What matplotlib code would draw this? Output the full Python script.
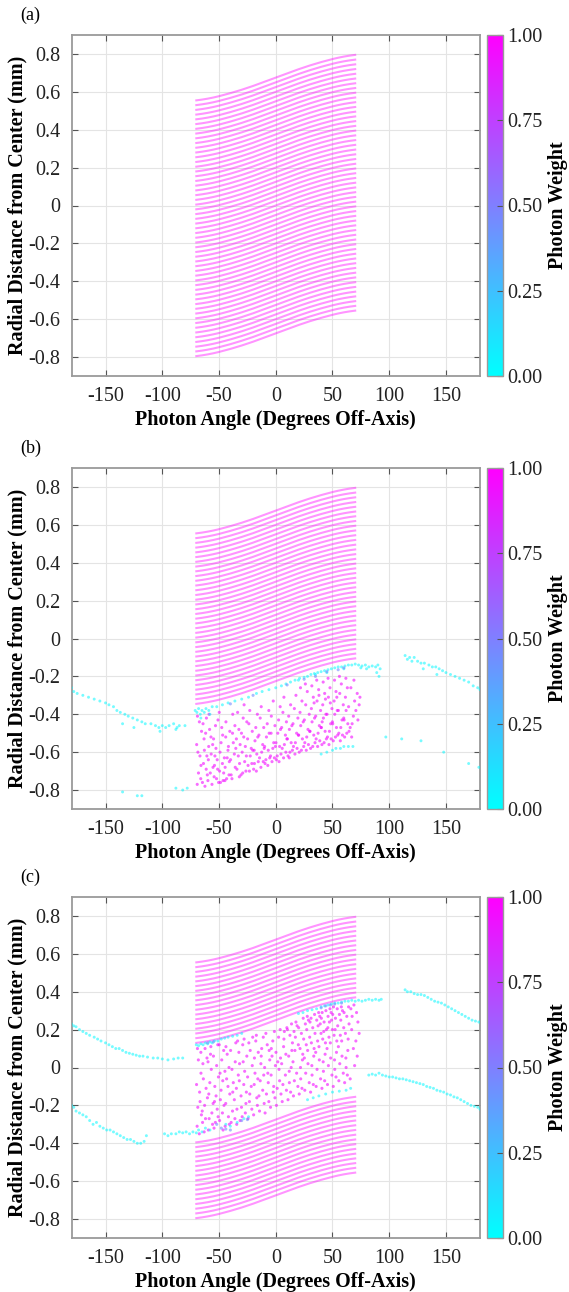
import numpy as np
import matplotlib
matplotlib.use('Agg')
import matplotlib.pyplot as plt
from matplotlib import cm, colors

plt.rcParams['font.family'] = ['Liberation Serif', 'DejaVu Serif']
plt.rcParams['axes.unicode_minus'] = False

# shape of the launch lines: shift (mm) vs angle (deg)
line_angles = [-70, -65, -60, -55, -50, -45, -40, -35, -30, -25, -20, -15, -10, -5, 0,
               5, 10, 15, 20, 25, 30, 35, 40, 45, 50, 55, 60, 65, 70]
line_shift = [-0.120, -0.116, -0.111, -0.105, -0.098, -0.090, -0.082, -0.073, -0.064, -0.054,
              -0.044, -0.033, -0.022, -0.011, 0.0, 0.011, 0.022, 0.033, 0.044, 0.054,
              0.064, 0.073, 0.082, 0.090, 0.098, 0.105, 0.111, 0.116, 0.120]
line_offsets = [-0.675, -0.65, -0.625, -0.6, -0.575, -0.55, -0.525, -0.5, -0.475, -0.45, -0.425,
                -0.4, -0.375, -0.35, -0.325, -0.3, -0.275, -0.25, -0.225, -0.2, -0.175, -0.15,
                -0.125, -0.1, -0.075, -0.05, -0.025, 0.0, 0.025, 0.05, 0.075, 0.1, 0.125, 0.15,
                0.175, 0.2, 0.225, 0.25, 0.275, 0.3, 0.325, 0.35, 0.375, 0.4, 0.425, 0.45, 0.475,
                0.5, 0.525, 0.55, 0.575, 0.6, 0.625, 0.65, 0.675]
lines_b_min = -0.225
lines_c_gap = (-0.275, 0.25)

weight_cloud = 0.95
weight_edge = 0.03
weight_mid = 0.45

# panel (b) photons
cloud_b = [
    (-69.2,-0.77),(-66.8,-0.62),(-68.1,-0.71),(-65.4,-0.49),(-69.7,-0.56),(-67.3,-0.44),(-66.1,-0.74),(-68.6,-0.6),(-65.9,-0.67),(-69.0,-0.41),
    (-64.6,-0.76),(-61.3,-0.69),(-63.2,-0.53),(-60.7,-0.62),(-62.4,-0.78),(-64.1,-0.45),(-61.8,-0.5),(-63.7,-0.66),(-60.3,-0.72),(-62.9,-0.59),(-61.1,-0.42),
    (-59.4,-0.64),(-56.2,-0.77),(-58.3,-0.48),(-55.6,-0.56),(-57.7,-0.71),(-59.8,-0.75),(-56.9,-0.61),(-58.8,-0.4),(-55.3,-0.68),(-57.1,-0.52),(-59.1,-0.57),
    (-54.3,-0.73),(-51.6,-0.64),(-53.1,-0.46),(-50.4,-0.76),(-52.7,-0.58),(-54.8,-0.53),(-51.2,-0.69),(-53.6,-0.62),(-50.9,-0.43),(-52.2,-0.74),(-54.0,-0.67),
    (-49.5,-0.7),(-46.4,-0.75),(-48.2,-0.55),(-45.3,-0.63),(-47.6,-0.47),(-49.1,-0.6),(-45.9,-0.71),(-47.0,-0.66),(-48.7,-0.76),(-46.8,-0.51),(-49.8,-0.39),
    (-44.6,-0.68),(-41.7,-0.57),(-43.3,-0.74),(-40.5,-0.49),(-42.8,-0.63),(-44.1,-0.52),(-41.2,-0.72),(-43.9,-0.44),(-40.9,-0.65),(-42.1,-0.59),(-44.8,-0.75),
    (-39.3,-0.72),(-36.5,-0.61),(-38.1,-0.5),(-35.7,-0.68),(-37.4,-0.55),(-39.8,-0.64),(-36.0,-0.46),(-38.6,-0.74),(-35.2,-0.58),(-37.9,-0.4),
    (-34.2,-0.69),(-31.4,-0.56),(-33.0,-0.62),(-30.6,-0.72),(-32.5,-0.48),(-34.7,-0.53),(-31.9,-0.66),(-33.6,-0.39),(-30.2,-0.5),(-32.1,-0.73),
    (-29.6,-0.6),(-26.3,-0.7),(-28.2,-0.52),(-25.5,-0.44),(-27.4,-0.65),(-29.1,-0.71),(-26.8,-0.57),(-28.7,-0.42),(-25.9,-0.62),(-27.9,-0.35),
    (-24.4,-0.67),(-21.6,-0.58),(-23.2,-0.7),(-20.7,-0.49),(-22.5,-0.62),(-24.8,-0.53),(-21.1,-0.66),(-23.7,-0.45),(-20.3,-0.59),(-22.9,-0.38),
    (-19.5,-0.69),(-16.7,-0.61),(-18.3,-0.54),(-15.4,-0.65),(-17.6,-0.47),(-19.0,-0.59),(-16.2,-0.4),(-18.8,-0.66),(-15.8,-0.52),(-17.1,-0.7),
    (-14.3,-0.63),(-11.5,-0.56),(-13.1,-0.68),(-10.6,-0.47),(-12.4,-0.6),(-14.8,-0.51),(-11.0,-0.65),(-13.7,-0.42),(-10.2,-0.58),(-12.8,-0.36),
    (-9.4,-0.66),(-6.6,-0.59),(-8.2,-0.52),(-5.3,-0.63),(-7.5,-0.45),(-9.8,-0.57),(-6.1,-0.38),(-8.7,-0.64),(-5.8,-0.5),(-7.0,-0.67),
    (-4.6,-0.62),(-1.8,-0.55),(-3.3,-0.65),(-0.7,-0.46),(-2.6,-0.58),(-4.1,-0.5),(-1.2,-0.63),(-3.9,-0.41),(-0.3,-0.57),(-2.2,-0.33),
    (0.6,-0.64),(3.4,-0.57),(1.8,-0.5),(4.6,-0.61),(2.5,-0.43),(0.2,-0.55),(3.9,-0.36),(1.3,-0.62),(4.2,-0.48),(2.9,-0.65),
    (5.7,-0.58),(8.5,-0.51),(6.9,-0.63),(9.4,-0.44),(7.6,-0.56),(5.2,-0.47),(8.9,-0.6),(6.3,-0.39),(9.8,-0.53),(7.2,-0.31),
    (10.8,-0.62),(13.6,-0.55),(12.0,-0.48),(14.7,-0.59),(11.4,-0.41),(10.3,-0.53),(13.1,-0.35),(12.5,-0.6),(14.2,-0.46),(11.9,-0.63),
    (15.6,-0.57),(18.4,-0.5),(16.9,-0.61),(19.5,-0.42),(17.3,-0.55),(15.2,-0.45),(18.8,-0.58),(16.4,-0.37),(19.9,-0.51),(17.8,-0.3),
    (20.7,-0.6),(23.5,-0.53),(22.0,-0.46),(24.6,-0.57),(21.4,-0.39),(20.2,-0.51),(23.1,-0.33),(22.6,-0.59),(24.2,-0.44),(21.8,-0.26),
    (25.6,-0.55),(28.4,-0.48),(26.9,-0.59),(29.5,-0.4),(27.3,-0.52),(25.2,-0.43),(28.8,-0.56),(26.4,-0.35),(29.9,-0.49),(27.8,-0.28),(26.1,-0.24),
    (30.7,-0.58),(33.5,-0.51),(32.0,-0.44),(34.6,-0.55),(31.4,-0.37),(30.2,-0.49),(33.1,-0.31),(32.6,-0.57),(34.2,-0.42),(31.8,-0.25),(33.8,-0.34),
    (35.6,-0.53),(38.4,-0.46),(36.9,-0.57),(39.5,-0.38),(37.3,-0.5),(35.2,-0.41),(38.8,-0.54),(36.4,-0.33),(39.9,-0.47),(37.8,-0.27),(36.1,-0.22),(38.1,-0.3),
    (40.7,-0.56),(43.5,-0.49),(42.0,-0.42),(44.6,-0.53),(41.4,-0.35),(40.2,-0.47),(43.1,-0.29),(42.6,-0.55),(44.2,-0.4),(41.8,-0.23),(43.8,-0.32),(40.9,-0.44),
    (45.6,-0.52),(48.4,-0.45),(46.9,-0.56),(49.5,-0.37),(47.3,-0.49),(45.2,-0.4),(48.8,-0.53),(46.4,-0.31),(49.9,-0.44),(47.8,-0.26),(46.1,-0.21),(48.1,-0.34),
    (50.7,-0.54),(53.5,-0.47),(52.0,-0.4),(54.6,-0.51),(51.4,-0.33),(50.2,-0.45),(53.1,-0.28),(52.6,-0.52),(54.2,-0.38),(51.8,-0.22),(53.8,-0.31),
    (55.6,-0.5),(58.4,-0.43),(56.9,-0.54),(59.5,-0.35),(57.3,-0.47),(55.2,-0.38),(58.8,-0.51),(56.4,-0.29),(59.9,-0.42),(57.8,-0.24),(56.1,-0.2),
    (60.7,-0.52),(63.5,-0.45),(62.0,-0.38),(64.6,-0.49),(61.4,-0.31),(60.2,-0.43),(63.1,-0.26),(62.6,-0.5),(64.2,-0.36),(61.8,-0.21),
    (65.6,-0.47),(68.4,-0.41),(66.9,-0.52),(69.5,-0.33),(67.3,-0.45),(70.6,-0.38),(71.8,-0.29),(72.4,-0.43),(73.5,-0.35),(74.2,-0.31),(66.2,-0.26),(68.9,-0.22),
]
edge_b = [
    (-71,-0.38),(-69.5,-0.39),(-68,-0.37),(-66.5,-0.4),(-65,-0.38),(-63,-0.39),(-61.5,-0.37),(-59,-0.38),(-56,-0.36),(-52,-0.36),
    (-47,-0.35),(-42,-0.34),(-36,-0.33),(-30,-0.32),(-24,-0.31),(-17,-0.29),(-12,-0.28),(-6,-0.27),(0,-0.26),(5,-0.25),
    (9,-0.24),(13,-0.23),(17,-0.22),(21,-0.21),(25,-0.205),(28,-0.2),(31,-0.19),(34,-0.185),(37,-0.18),(40,-0.175),
    (43,-0.17),(46,-0.165),(49,-0.16),(52,-0.155),(55,-0.15),(58,-0.15),(61,-0.145),(64,-0.14),(67,-0.14),(70,-0.135),
    (73,-0.14),(76,-0.145),(79,-0.14),(82,-0.15),(85,-0.145),(88,-0.15),(90,-0.14),(92,-0.16),(91,-0.2),(89,-0.18),
    (-66,-0.42),(-58,-0.4),(20,-0.22),(35,-0.19),(45,-0.18),(60,-0.16),(75,-0.155),(80,-0.16),
    # left arc
    (-180,-0.26),(-178,-0.28),(-175,-0.29),(-170,-0.3),(-165,-0.31),(-160,-0.32),(-155,-0.33),(-150,-0.34),(-147,-0.35),(-143,-0.36),
    (-140,-0.38),(-137,-0.39),(-133,-0.4),(-130,-0.41),(-126,-0.42),(-122,-0.43),(-118,-0.44),(-115,-0.45),(-110,-0.45),(-106,-0.46),
    (-103,-0.47),(-100,-0.46),(-97,-0.47),(-94,-0.46),(-90,-0.45),(-87,-0.47),(-85,-0.46),(-80,-0.46),(-135,-0.45),(-125,-0.47),
    (-102,-0.49),(-88,-0.48),
    # right arc
    (114,-0.09),(116,-0.11),(118,-0.1),(120,-0.12),(122,-0.1),(125,-0.12),(128,-0.13),(131,-0.13),(135,-0.14),(138,-0.15),
    (141,-0.15),(144,-0.16),(147,-0.17),(150,-0.18),(154,-0.19),(158,-0.2),(162,-0.21),(166,-0.22),(170,-0.23),(174,-0.25),
    (178,-0.26),(180,-0.27),(130,-0.16),(142,-0.19),
    # strays and lower edge
    (-135,-0.81),(-122,-0.83),(-118,-0.83),(-88,-0.79),(-82,-0.8),(-78,-0.79),(97,-0.52),(111,-0.53),(128,-0.54),(148,-0.6),
    (170,-0.66),(179,-0.68),(40,-0.61),(45,-0.6),(50,-0.59),(53,-0.58),(57,-0.58),(60,-0.57),(64,-0.57),(68,-0.57),
]
mid_b = [(-40,-0.345),(-20,-0.3),(10,-0.245),(25,-0.215),(35,-0.2),(45,-0.175),(55,-0.165),(60,-0.155)]

# panel (c) photons
cloud_c = [
    (-69.3,-0.31),(-66.7,-0.18),(-68.2,0.04),(-65.5,-0.25),(-69.8,-0.09),(-67.4,-0.35),(-66.0,0.08),(-68.7,-0.21),(-65.9,-0.03),(-69.0,0.1),(-67.1,-0.13),
    (-64.5,-0.29),(-61.4,-0.11),(-63.1,-0.34),(-60.6,0.05),(-62.7,-0.2),(-64.2,0.02),(-61.9,-0.27),(-63.8,-0.06),(-60.2,-0.16),(-62.3,0.1),(-64.8,-0.23),
    (-59.4,-0.33),(-56.3,-0.24),(-58.1,-0.08),(-55.7,-0.3),(-57.5,0.07),(-59.0,-0.14),(-56.8,-0.01),(-58.7,-0.27),(-55.2,-0.19),(-57.2,0.11),(-59.7,0.03),
    (-54.4,-0.32),(-51.6,-0.22),(-53.2,-0.29),(-50.5,-0.05),(-52.6,-0.15),(-54.9,0.06),(-51.1,0.12),(-53.7,-0.1),(-50.8,-0.26),(-52.1,0.01),(-54.0,-0.18),
    (-49.5,-0.28),(-46.4,-0.33),(-48.2,-0.12),(-45.6,-0.2),(-47.6,0.04),(-49.1,-0.03),(-45.9,0.09),(-47.0,-0.24),(-48.8,-0.17),(-46.7,-0.07),(-49.8,0.12),
    (-44.6,-0.31),(-41.7,-0.26),(-43.3,-0.06),(-40.5,-0.14),(-42.8,0.07),(-44.1,-0.19),(-41.2,0.0),(-43.9,0.11),(-40.9,-0.3),(-42.1,-0.1),(-44.8,-0.02),
    (-39.3,-0.29),(-36.5,-0.17),(-38.1,-0.23),(-35.7,0.03),(-37.4,-0.08),(-39.8,0.09),(-36.0,-0.27),(-38.6,-0.01),(-35.2,0.13),(-37.9,-0.13),
    (-34.2,-0.22),(-31.4,-0.28),(-33.0,-0.04),(-30.6,-0.15),(-32.5,0.08),(-34.7,-0.11),(-31.9,0.02),(-33.6,0.14),(-30.2,-0.21),(-32.1,-0.07),(-34.4,-0.3),
    (-29.6,-0.26),(-26.3,-0.19),(-28.2,-0.09),(-25.5,0.06),(-27.4,-0.02),(-29.1,0.12),(-26.8,-0.24),(-28.7,0.03),(-25.9,-0.13),(-27.9,0.15),
    (-24.4,-0.27),(-21.6,-0.1),(-23.2,-0.18),(-20.7,0.01),(-22.5,0.09),(-24.8,-0.05),(-21.1,-0.22),(-23.7,0.13),(-20.3,0.16),(-22.9,-0.14),
    (-19.5,-0.25),(-16.7,-0.16),(-18.3,-0.03),(-15.4,0.08),(-17.6,0.14),(-19.0,-0.09),(-16.2,-0.2),(-18.8,0.05),(-15.8,-0.06),(-17.1,0.17),
    (-14.3,-0.23),(-11.5,-0.12),(-13.1,0.02),(-10.6,-0.04),(-12.4,0.1),(-14.8,-0.15),(-11.0,0.16),(-13.7,-0.07),(-10.2,-0.19),(-12.8,0.06),
    (-9.4,-0.24),(-6.6,-0.08),(-8.2,-0.14),(-5.3,0.04),(-7.5,0.12),(-9.8,0.0),(-6.1,-0.18),(-8.7,0.18),(-5.8,0.09),(-7.0,-0.03),
    (-4.6,-0.21),(-1.8,-0.1),(-3.3,0.06),(-0.7,-0.16),(-2.6,0.14),(-4.1,-0.04),(-1.2,0.19),(-3.9,0.1),(-0.3,0.01),(-2.2,-0.13),
    (0.6,-0.2),(3.4,-0.07),(1.8,0.03),(4.6,-0.14),(2.5,0.16),(0.2,0.08),(3.9,0.2),(1.3,-0.11),(4.2,0.05),(2.9,-0.01),
    (5.7,-0.18),(8.5,-0.04),(6.9,0.11),(9.4,-0.12),(7.6,0.19),(5.2,0.02),(8.9,0.07),(6.3,-0.09),(9.8,0.21),(7.2,0.15),
    (10.8,-0.17),(13.6,0.0),(12.0,-0.08),(14.7,0.13),(11.4,0.06),(10.3,0.2),(13.1,-0.13),(12.5,0.17),(14.2,0.09),(11.9,-0.02),(13.9,0.23),
    (15.6,-0.15),(18.4,-0.03),(16.9,0.09),(19.5,-0.1),(17.3,0.16),(15.2,0.03),(18.8,0.22),(16.4,-0.07),(19.9,0.12),(17.8,0.24),(16.1,0.19),
    (20.7,-0.14),(23.5,0.04),(22.0,-0.06),(24.6,0.15),(21.4,0.1),(20.2,0.21),(23.1,-0.11),(22.6,0.18),(24.2,0.26),(21.8,0.0),(23.8,0.07),
    (25.6,-0.12),(28.4,0.02),(26.9,0.12),(29.5,-0.08),(27.3,0.2),(25.2,0.05),(28.8,0.25),(26.4,-0.03),(29.9,0.16),(27.8,0.27),(26.1,0.23),(28.1,0.09),
    (30.7,-0.13),(33.5,0.06),(32.0,-0.04),(34.6,0.18),(31.4,0.13),(30.2,0.24),(33.1,-0.09),(32.6,0.21),(34.2,0.28),(31.8,0.01),(33.8,0.1),(31.1,0.26),
    (35.6,-0.1),(38.4,0.04),(36.9,0.14),(39.5,-0.06),(37.3,0.22),(35.2,0.08),(38.8,0.27),(36.4,-0.01),(39.9,0.18),(37.8,0.29),(36.1,0.25),(38.1,0.11),(39.2,0.23),
    (40.7,-0.11),(43.5,0.07),(42.0,-0.02),(44.6,0.2),(41.4,0.15),(40.2,0.26),(43.1,-0.07),(42.6,0.24),(44.2,0.3),(41.8,0.03),(43.8,0.13),(40.9,0.29),(42.3,0.19),
    (45.6,-0.09),(48.4,0.05),(46.9,0.16),(49.5,-0.04),(47.3,0.24),(45.2,0.1),(48.8,0.29),(46.4,0.01),(49.9,0.2),(47.8,0.31),(46.1,0.27),(48.1,0.13),(49.2,0.25),(45.9,0.21),
    (50.7,-0.1),(53.5,0.08),(52.0,-0.01),(54.6,0.22),(51.4,0.17),(50.2,0.28),(53.1,-0.05),(52.6,0.26),(54.2,0.31),(51.8,0.04),(53.8,0.14),(50.9,0.32),(52.3,0.2),
    (55.6,-0.07),(58.4,0.06),(56.9,0.17),(59.5,-0.03),(57.3,0.25),(55.2,0.11),(58.8,0.3),(56.4,0.02),(59.9,0.21),(57.8,0.32),(56.1,0.28),(58.1,0.14),
    (60.7,-0.08),(63.5,0.09),(62.0,0.0),(64.6,0.23),(61.4,0.18),(60.2,0.29),(63.1,-0.04),(62.6,0.27),(64.2,0.32),(61.8,0.05),(63.8,0.15),
    (65.6,-0.06),(68.4,0.1),(66.9,0.2),(69.5,0.01),(67.3,0.27),(70.6,0.14),(71.8,0.06),(72.4,0.24),(73.5,0.18),(66.2,0.31),(68.9,0.33),(71.2,0.29),
]
edge_c = [
    # cloud top edge
    (-70,0.12),(-68,0.115),(-66,0.125),(-64,0.12),(-62,0.13),(-60,0.125),(-58,0.135),(-56,0.13),(-54,0.14),(-51,0.14),
    (-48,0.15),(-45,0.155),(-42,0.16),(-38,0.165),(-34,0.17),(-30,0.18),(20,0.285),(24,0.29),(28,0.3),(32,0.305),
    (36,0.31),(40,0.32),(43,0.325),(46,0.33),(49,0.335),(52,0.34),(55,0.34),(58,0.345),(61,0.35),(64,0.35),
    (67,0.355),(70,0.35),(73,0.355),(76,0.35),(79,0.355),(82,0.36),(85,0.355),(88,0.36),(91,0.355),(93,0.36),
    # cloud bottom edge
    (-76,-0.35),(-73,-0.34),(-70,-0.345),(-68,-0.33),(-65,-0.34),(-62,-0.32),(-58,-0.33),(-44,-0.3),(-40,-0.31),(-34,-0.29),
    (-28,-0.27),(-24,-0.26),(28,-0.17),(33,-0.16),(38,-0.15),(44,-0.14),(50,-0.13),(56,-0.125),(62,-0.12),(66,-0.11),
    # upper left arc
    (-180,0.23),(-178,0.22),(-176,0.215),(-173,0.2),(-170,0.19),(-167,0.18),(-164,0.17),(-160,0.16),(-157,0.15),(-154,0.14),
    (-150,0.13),(-147,0.12),(-144,0.11),(-141,0.1),(-138,0.1),(-135,0.09),(-132,0.08),(-129,0.075),(-126,0.07),(-123,0.065),
    (-120,0.06),(-117,0.06),(-113,0.055),(-108,0.05),(-104,0.05),(-100,0.045),(-95,0.04),(-90,0.045),(-86,0.05),(-82,0.05),
    # lower left arc
    (-180,-0.2),(-178,-0.21),(-176,-0.23),(-173,-0.24),(-170,-0.25),(-167,-0.26),(-164,-0.28),(-161,-0.3),(-158,-0.29),(-155,-0.31),
    (-152,-0.32),(-149,-0.33),(-146,-0.33),(-143,-0.34),(-140,-0.35),(-137,-0.36),(-134,-0.37),(-131,-0.38),(-128,-0.38),(-125,-0.39),
    (-122,-0.4),(-119,-0.4),(-116,-0.39),(-114,-0.36),(-98,-0.35),(-95,-0.36),(-92,-0.35),(-88,-0.35),(-85,-0.34),(-82,-0.345),(-79,-0.34),
    # upper right arc
    (114,0.41),(116,0.4),(119,0.4),(122,0.39),(125,0.385),(128,0.385),(131,0.38),(134,0.37),(137,0.36),(140,0.35),
    (143,0.345),(146,0.34),(149,0.33),(152,0.32),(155,0.31),(158,0.3),(161,0.29),(164,0.28),(167,0.27),(170,0.26),
    (173,0.25),(176,0.245),(179,0.24),
    # lower right arc
    (82,-0.04),(85,-0.035),(88,-0.04),(91,-0.03),(94,-0.04),(97,-0.045),(100,-0.05),(103,-0.05),(106,-0.055),(109,-0.06),
    (112,-0.06),(115,-0.065),(118,-0.07),(121,-0.075),(124,-0.08),(127,-0.085),(130,-0.09),(133,-0.1),(136,-0.105),(139,-0.11),
    (142,-0.12),(145,-0.125),(148,-0.13),(151,-0.14),(154,-0.145),(157,-0.155),(160,-0.16),(163,-0.17),(166,-0.18),(169,-0.19),
    (172,-0.2),(175,-0.205),(178,-0.21),(180,-0.22),
]
mid_c = [(-60,0.13),(-55,0.135),(-52,-0.3),(-48,-0.32),(-44,-0.325),(-40,-0.33),(-30,-0.28),(-25,-0.275),
         (40,0.315),(44,0.325),(48,0.33),(52,0.335),(58,0.34)]

xticks = [-150, -100, -50, 0, 50, 100, 150]
yticks = [-0.8, -0.6, -0.4, -0.2, 0, 0.2, 0.4, 0.6, 0.8]
ytick_labels = ['-0.8', '-0.6', '-0.4', '-0.2', '0', '0.2', '0.4', '0.6', '0.8']
cbar_ticks = [0, 0.25, 0.5, 0.75, 1.0]

W, H = 569, 1292
fig = plt.figure(figsize=(W / 100, H / 100), dpi=100)
cmap = plt.get_cmap('cool')
norm = colors.Normalize(0, 1)
fs = 14.5
spine_col = '#9a9a9a'


def scatter_group(ax, pts, w, size, alpha):
    if not pts:
        return
    xy = np.array(pts)
    ax.scatter(xy[:, 0], xy[:, 1], c=np.full(len(xy), w), cmap=cmap, norm=norm,
               s=size, marker='o', linewidths=0, alpha=alpha, zorder=3)


def panel(top_px, label, offsets, cloud, edge, mid):
    ax = fig.add_axes([71.5 / W, 1 - (top_px + 341) / H, 408.5 / W, 341 / H])
    xs = np.array(line_angles)
    sh = np.array(line_shift)
    for off in offsets:
        ax.plot(xs, off + sh, color='magenta', alpha=0.42, lw=1.5, zorder=2)
    scatter_group(ax, cloud, weight_cloud, 5, 0.6)
    scatter_group(ax, edge, weight_edge, 4.5, 0.55)
    scatter_group(ax, mid, weight_mid, 5, 0.6)

    ax.set_xlim(-180, 180)
    ax.set_ylim(-0.9, 0.9)
    ax.set_xticks(xticks)
    ax.set_yticks(yticks)
    ax.set_yticklabels(ytick_labels)
    ax.grid(True, color='#e4e4e4', lw=0.8, zorder=0)
    ax.set_axisbelow(True)
    ax.tick_params(direction='in', length=4, width=0.8, color='#555555',
                   labelsize=fs, top=True, right=True, labelcolor='#222222')
    ax.tick_params(axis='x', pad=8)
    ax.tick_params(axis='y', pad=8)
    for sp in ax.spines.values():
        sp.set_color(spine_col)
        sp.set_linewidth(1.3)
    ax.set_xlabel('Photon Angle (Degrees Off-Axis)', fontsize=fs, fontweight='bold', labelpad=3)
    ax.set_ylabel('Radial Distance from Center (mm)', fontsize=fs, fontweight='bold', labelpad=1)
    fig.text(20 / W, 1 - (top_px - 20) / H, label, fontsize=13, va='center', ha='left')

    cax = fig.add_axes([487 / W, 1 - (top_px + 341) / H, 16 / W, 341 / H])
    cb = fig.colorbar(cm.ScalarMappable(norm=norm, cmap=cmap), cax=cax, ticks=cbar_ticks)
    cb.ax.set_yticklabels(['%.2f' % t for t in cbar_ticks])
    cb.ax.tick_params(direction='in', length=4, width=0.8, color='#555555',
                      labelsize=fs, pad=3, labelcolor='#222222')
    cb.outline.set_edgecolor(spine_col)
    cb.outline.set_linewidth(1.0)
    cb.set_label('Photon Weight', fontsize=fs, fontweight='bold', labelpad=4)
    return ax


lines_b = [o for o in line_offsets if o >= lines_b_min]
lines_c = [o for o in line_offsets if o <= lines_c_gap[0] or o >= lines_c_gap[1]]

panel(35, '(a)', line_offsets, [], [], [])
panel(468, '(b)', lines_b, cloud_b, edge_b, mid_b)
panel(897, '(c)', lines_c, cloud_c, edge_c, mid_c)

fig.savefig('out.png', dpi=100)
